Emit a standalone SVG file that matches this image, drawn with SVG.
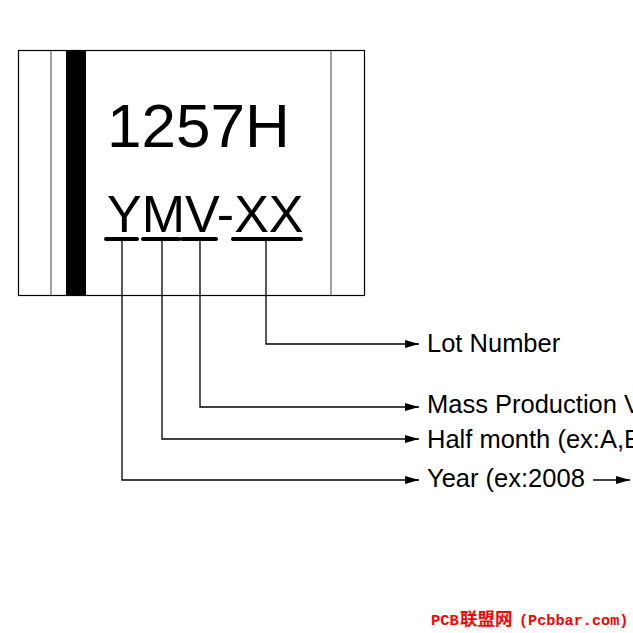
<svg xmlns="http://www.w3.org/2000/svg" width="633" height="633" viewBox="0 0 633 633">
<style>
text{font-family:"Liberation Sans",Arial,sans-serif;fill:#000}
.big{font-size:62px}
.mark{font-size:52px}
.lab{font-size:25.5px}
.conn{fill:none;stroke:#000;stroke-width:1.3}
.ul{fill:none;stroke:#000;stroke-width:4;stroke-linecap:round}
.thin{stroke:#444;stroke-width:1}
</style>
<defs>
<marker id="a" markerUnits="userSpaceOnUse" markerWidth="14" markerHeight="10" refX="14" refY="5" orient="auto"><path d="M0 1 L14 5 L0 9 Z" fill="#000"/></marker>
</defs>
<rect width="633" height="633" fill="#fff"/>
<g id="package">
<rect x="18.500" y="50.500" width="346" height="245" fill="#fff" stroke="#000" stroke-width="1.200"/>
<line class="thin" x1="51" y1="51" x2="51" y2="295"/>
<line class="thin" x1="331" y1="51" x2="331" y2="295"/>
<rect x="66" y="50" width="20" height="246" fill="#000"/>
</g>
<g id="marking">
<text class="big" x="107" y="147">1257H</text>
<text class="mark" x="107" y="232">YMV-XX</text>
<line class="ul" x1="106" y1="239" x2="137" y2="239"/>
<line class="ul" x1="143" y1="239" x2="179" y2="239"/>
<line class="ul" x1="182" y1="239" x2="216" y2="239"/>
<line class="ul" x1="233" y1="239" x2="301" y2="239"/>
</g>
<g id="connectors">
<path class="conn" marker-end="url(#a)" d="M266 240 V344 H419"/>
<path class="conn" marker-end="url(#a)" d="M200 240 V407 H419"/>
<path class="conn" marker-end="url(#a)" d="M162 240 V439 H419"/>
<path class="conn" marker-end="url(#a)" d="M122 240 V480 H419"/>
<path class="conn" marker-end="url(#a)" d="M593 480 H630"/>
</g>
<g id="label-lot"><text class="lab" x="427" y="352">Lot Number</text></g>
<g id="label-mass"><text class="lab" x="427" y="413">Mass Production V</text></g>
<g id="label-half"><text class="lab" x="427" y="448">Half month (ex:A,B</text></g>
<g id="label-year"><text class="lab" x="427" y="487">Year (ex:2008</text></g>
<g id="watermark"><text y="625" font-weight="bold" style="font-family:'Liberation Mono','Noto Sans CJK SC',monospace;fill:#f00" font-size="16"><tspan x="431" font-size="15.500">PCB</tspan><tspan x="460" font-size="17.500">联盟网</tspan><tspan x="519" font-size="15.200">(Pcbbar.com)</tspan></text></g>
</svg>
